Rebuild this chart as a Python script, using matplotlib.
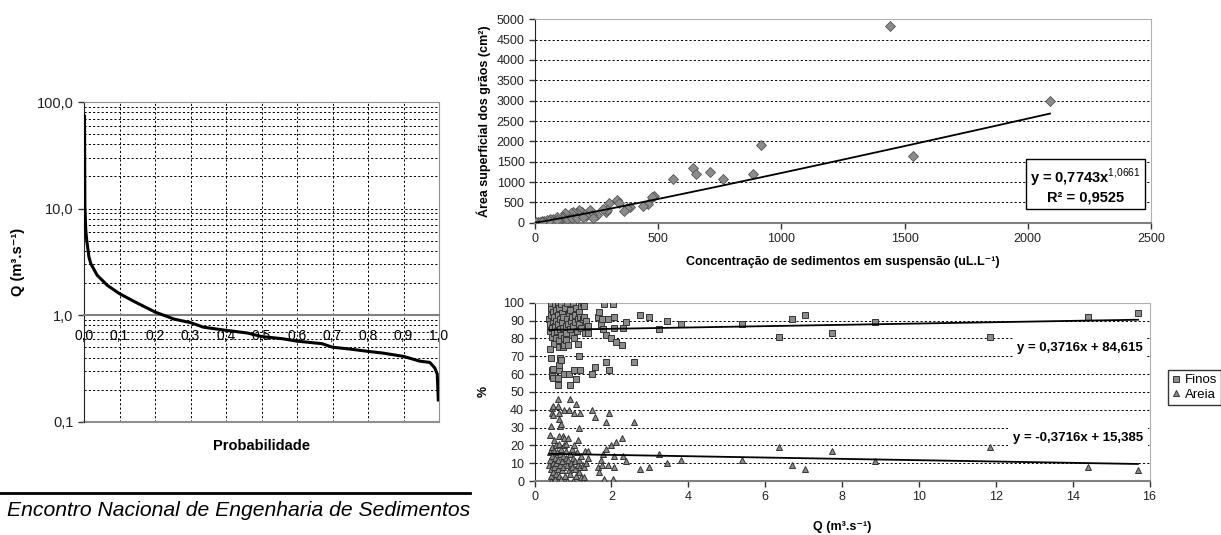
import numpy as np
import matplotlib
matplotlib.use("Agg")
import matplotlib.pyplot as plt
from matplotlib.lines import Line2D
from matplotlib.ticker import LogLocator, NullFormatter

plt.rcParams['font.family'] = ['Liberation Sans', 'DejaVu Sans']
plt.rcParams['mathtext.fontset'] = 'custom'
plt.rcParams['mathtext.rm'] = 'Liberation Sans'
plt.rcParams['mathtext.bf'] = 'Liberation Sans:bold'

# curva de permanência (esquerda)
prob = [0.0, 0.0015, 0.0025, 0.005, 0.0075, 0.014, 0.019, 0.037, 0.066, 0.10,
        0.14, 0.20, 0.253, 0.30, 0.337, 0.40, 0.46, 0.50, 0.56, 0.60, 0.67,
        0.70, 0.75, 0.80, 0.843, 0.90, 0.946, 0.974, 0.988, 0.995, 0.998]
flow = [75.0, 73.8, 10.4, 6.3, 5.1, 3.5, 3.05, 2.37, 1.90, 1.59,
        1.35, 1.07, 0.92, 0.85, 0.77, 0.72, 0.68, 0.63, 0.60, 0.57, 0.54,
        0.50, 0.48, 0.457, 0.44, 0.41, 0.37, 0.36, 0.32, 0.28, 0.16]

# área superficial x concentração (topo direita)
conc = [1439, 2090, 1533, 917, 886, 765, 710, 643, 652, 559, 483, 474, 460, 437,
        386, 372, 361, 334, 340, 299, 288, 291, 275, 250, 223, 231, 207, 189,
        180, 169, 156, 145, 139, 122, 115, 108, 99, 88, 74, 61, 47, 37, 27, 14,
        4, 20, 68, 81, 129, 149, 169, 196, 237, 55, 90, 30]
area = [4836, 3000, 1640, 1910, 1197, 1066, 1254, 1336, 1189, 1066, 656, 623, 459, 410,
        393, 352, 287, 557, 492, 475, 262, 311, 328, 189, 311, 189, 164, 270,
        311, 230, 270, 246, 148, 230, 148, 107, 66, 148, 82, 98, 66, 41, 49, 16,
        8, 25, 49, 41, 82, 107, 107, 148, 107, 30, 60, 20]
pow_a, pow_b = 0.7743, 1.0661

# finos / areia x vazão (baixo direita)
q = [0.38, 0.40, 0.40, 0.42, 0.43, 0.44, 0.45, 0.46, 0.47, 0.48, 0.50, 0.50, 0.52, 0.53,
     0.54, 0.55, 0.56, 0.57, 0.58, 0.60, 0.61, 0.62, 0.63, 0.64, 0.65, 0.66, 0.67, 0.68,
     0.70, 0.71, 0.72, 0.73, 0.74, 0.75, 0.76, 0.78, 0.80, 0.81, 0.82, 0.83, 0.84, 0.85,
     0.87, 0.88, 0.90, 0.92, 0.93, 0.95, 0.97, 0.98, 1.00, 1.01, 1.03, 1.05, 1.06, 1.08,
     1.10, 1.12, 1.13, 1.15, 1.16, 1.18, 1.20, 1.22, 1.25, 1.27, 1.28, 1.30, 1.32, 1.35, 1.38,
     0.41, 0.42, 0.45, 0.46, 0.47, 0.48, 0.60, 0.62, 0.64, 0.65, 0.66, 0.70, 0.78, 0.91,
     0.92, 1.02, 1.07, 1.16, 1.18, 1.50, 1.57, 1.87, 1.94, 2.60,
     1.39, 1.66, 1.69, 1.72, 1.76, 1.78, 1.80, 1.85, 1.91, 1.99, 2.04, 2.06, 2.06, 2.13,
     2.28, 2.31, 2.38, 2.75, 2.99, 3.24, 3.44, 3.80, 5.40, 6.36, 6.71, 7.03, 7.73, 8.86,
     11.85, 14.40, 15.70]
finos = [91, 84, 88, 97, 93, 100, 86, 81, 90, 95, 83, 77, 92, 99,
         87, 80, 96, 90, 84, 100, 93, 88, 79, 75, 97, 91, 85, 82,
         99, 94, 89, 86, 75, 92, 80, 76, 97, 87, 83, 79, 100, 91,
         88, 76, 94, 85, 96, 90, 82, 92, 100, 87, 80, 93, 89, 97,
         84, 91, 77, 95, 88, 92, 86, 98, 91, 100, 98, 92, 83, 90, 87,
         74, 69, 59, 62, 58, 63, 54, 58, 62, 65, 69, 68, 60, 60,
         54, 62, 57, 70, 62, 60, 64, 67, 62, 67,
         83, 92, 95, 88, 91, 85, 99, 82, 91, 80, 99, 92, 86, 78,
         76, 86, 89, 93, 92, 85, 90, 88, 88, 81, 91, 93, 83, 89,
         81, 92, 94]
areia = [9, 16, 12, 3, 7, 0, 14, 19, 10, 5, 17, 23, 8, 1,
         13, 20, 4, 10, 16, 0, 7, 12, 21, 25, 3, 9, 15, 18,
         1, 6, 11, 14, 25, 8, 20, 24, 3, 13, 17, 21, 0, 9,
         12, 24, 6, 15, 4, 10, 18, 8, 0, 13, 20, 7, 11, 3,
         16, 9, 23, 5, 12, 8, 14, 2, 9, 0, 2, 8, 17, 10, 13,
         26, 31, 41, 38, 42, 37, 46, 42, 38, 35, 31, 32, 40, 40,
         46, 38, 43, 30, 38, 40, 36, 33, 38, 33,
         17, 8, 5, 12, 9, 15, 1, 18, 9, 20, 1, 8, 14, 22,
         24, 14, 11, 7, 8, 15, 10, 12, 12, 19, 9, 7, 17, 11,
         19, 8, 6]
lin_finos = (0.3716, 84.615)
lin_areia = (-0.3716, 15.385)

W, H = 1221, 535
fig = plt.figure(figsize=(W / 100, H / 100), dpi=100)
dash = (0, (2.2, 2.2))

# ---- painel esquerdo
ax1 = fig.add_axes([84 / W, 1 - 421.7 / H, 355 / W, 319.7 / H])
ax1.plot(prob, flow, color='black', lw=2.2, zorder=4)
ax1.set_yscale('log')
ax1.set_ylim(0.1, 100)
ax1.set_xlim(0, 1)
ax1.set_yticks([0.1, 1, 10, 100])
ax1.set_yticklabels(['0,1', '1,0', '10,0', '100,0'], fontsize=10.5)
ax1.yaxis.set_minor_locator(LogLocator(base=10, subs=range(2, 10)))
ax1.yaxis.set_minor_formatter(NullFormatter())
ax1.tick_params(axis='y', which='minor', length=0)
ax1.tick_params(axis='y', which='major', length=4, width=1, colors='#333333', labelcolor='#222222')
xt = np.round(np.arange(0, 1.01, 0.1), 1)
ax1.set_xticks(xt)
ax1.set_xticklabels([f'{v:.1f}'.replace('.', ',') for v in xt], fontweight='bold', fontsize=10.5)
ax1.tick_params(axis='x', length=0, pad=10)
ax1.grid(axis='y', which='both', ls=dash, color='black', lw=0.7)
ax1.grid(axis='x', which='major', ls=dash, color='black', lw=0.7)
ax1.spines['bottom'].set_position(('data', 1.0))
ax1.spines['bottom'].set_color('#808080')
ax1.spines['bottom'].set_linewidth(1.5)
for s in ['top', 'right']:
    ax1.spines[s].set_color('#909090')
ax1.spines['left'].set_color('#222222')
ax1.axhline(0.1, color='#909090', lw=1.5, clip_on=False)
ax1.set_ylabel('Q (m³.s⁻¹)', fontweight='bold', fontsize=10.5)
ax1.yaxis.set_label_coords(-0.166, 0.5)
ax1.set_xlabel('Probabilidade', fontweight='bold', fontsize=10.5)
ax1.xaxis.set_label_coords(0.5, -0.054)

# ---- painel topo direita
ax2 = fig.add_axes([535 / W, 1 - 222.7 / H, 616 / W, 203.4 / H])
ax2.plot(conc, area, 'D', ms=5, mfc='#8c8c8c', mec='#555555', mew=0.6, zorder=3)
xs = np.linspace(min(conc), max(conc), 200)
ax2.plot(xs, pow_a * xs ** pow_b, color='black', lw=1.3, zorder=4)
ax2.set_xlim(0, 2500)
ax2.set_ylim(0, 5000)
ax2.set_xticks(range(0, 2501, 500))
ax2.set_yticks(range(0, 5001, 500))
ax2.grid(axis='y', ls=dash, color='black', lw=0.7)
ax2.set_xlabel('Concentração de sedimentos em suspensão (uL.L⁻¹)', fontweight='bold', fontsize=9)
ax2.xaxis.set_label_coords(0.5, -0.164)
ax2.set_ylabel('Área superficial dos grãos (cm²)', fontweight='bold', fontsize=9)
ax2.yaxis.set_label_coords(-0.071, 0.5)
ax2.text(0.894, 0.183, 'y = 0,7743x$^{1{,}0661}$\nR² = 0,9525', transform=ax2.transAxes,
         ha='center', va='center', ma='center', fontweight='bold', fontsize=10.5, zorder=6,
         bbox=dict(boxstyle='square,pad=0.3', fc='white', ec='black', lw=1))

# ---- painel baixo direita
ax3 = fig.add_axes([534.5 / W, 1 - 481 / H, 615 / W, 178.3 / H])
ax3.plot(q, finos, 's', ms=4.5, mfc='#8c8c8c', mec='#333333', mew=0.7, zorder=3)
ax3.plot(q, areia, '^', ms=5, mfc='#8c8c8c', mec='#333333', mew=0.7, zorder=3)
xq = np.array([min(q), max(q)])
ax3.plot(xq, lin_finos[0] * xq + lin_finos[1], color='black', lw=1.3, zorder=4)
ax3.plot(xq, lin_areia[0] * xq + lin_areia[1], color='black', lw=1.3, zorder=4)
ax3.set_xlim(0, 16)
ax3.set_ylim(0, 100)
ax3.set_xticks(range(0, 17, 2))
ax3.set_yticks(range(0, 101, 10))
ax3.grid(axis='y', ls=dash, color='black', lw=0.7)
ax3.set_xlabel('Q (m³.s⁻¹)', fontweight='bold', fontsize=9)
ax3.xaxis.set_label_coords(0.5, -0.224)
ax3.set_ylabel('%', fontweight='bold', fontsize=9)
ax3.yaxis.set_label_coords(-0.072, 0.5)
eq_box = dict(boxstyle='square,pad=0.35', fc='white', ec='none')
ax3.text(0.887, 0.746, 'y = 0,3716x + 84,615', transform=ax3.transAxes, ha='center', va='center',
         fontweight='bold', fontsize=9.5, bbox=eq_box, zorder=6)
ax3.text(0.884, 0.241, 'y = -0,3716x + 15,385', transform=ax3.transAxes, ha='center', va='center',
         fontweight='bold', fontsize=9.5, bbox=eq_box, zorder=6)

for ax in (ax2, ax3):
    ax.tick_params(length=4, width=1, colors='#333333', labelsize=9, labelcolor='#222222')
    ax.spines['left'].set_color('#222222')
    ax.spines['bottom'].set_color('#808080')
    ax.spines['bottom'].set_linewidth(1.5)
    for s in ['top', 'right']:
        ax.spines[s].set_color('#b0b0b0')

handles = [Line2D([], [], ls='none', marker='s', ms=4, mfc='#8c8c8c', mec='#333333', mew=0.7),
           Line2D([], [], ls='none', marker='^', ms=4.5, mfc='#8c8c8c', mec='#333333', mew=0.7)]
leg = fig.legend(handles, ['Finos', 'Areia'], loc='upper left', bbox_to_anchor=(1168 / W, 1 - 370 / H),
                 fontsize=9.5, frameon=True, fancybox=False, edgecolor='black', handlelength=0.6,
                 handletextpad=0.35, borderpad=0.3, labelspacing=0.2, borderaxespad=0)
leg.get_frame().set_linewidth(1)

# rodapé
fig.add_artist(Line2D([0, 470 / W], [1 - 492.5 / H] * 2, color='black', lw=2))
fig.text(7 / W, 1 - 510 / H, 'Encontro Nacional de Engenharia de Sedimentos', style='italic',
         fontsize=15.2, va='center', ha='left')

fig.savefig('out.png', dpi=100)
